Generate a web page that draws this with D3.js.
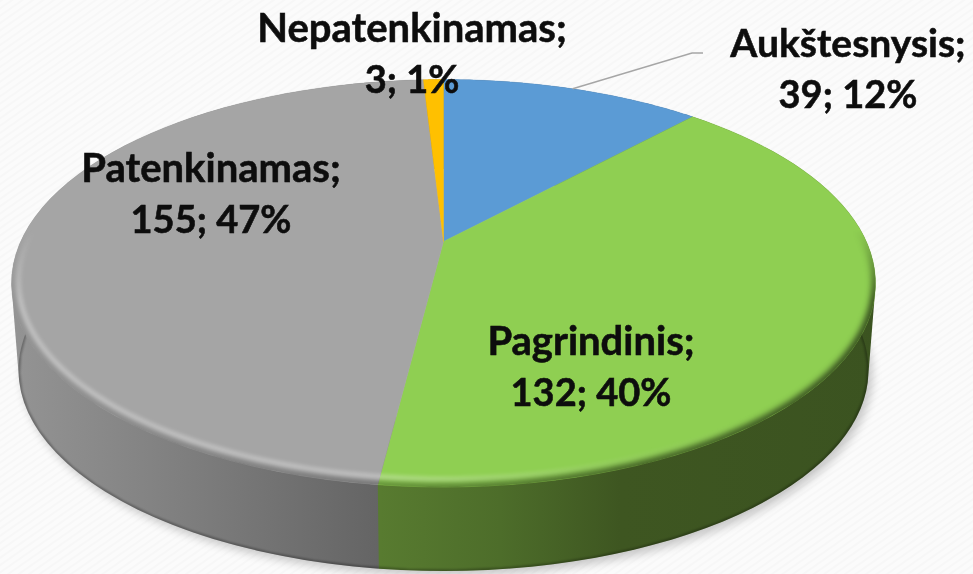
<!DOCTYPE html>
<html><head><meta charset="utf-8">
<script src="https://cdn.jsdelivr.net/npm/d3@7"></script>
<style>html,body{margin:0;padding:0;background:#fbfbfb;overflow:hidden}</style>
</head><body><div id="c"></div>
<script>
const categories = ["Aukštesnysis", "Pagrindinis", "Patenkinamas", "Nepatenkinamas"];
const values = [39, 132, 155, 3];
const percents = [12, 40, 47, 1];

const topColors = ["#5b9bd5", "#8fcf52", "#a5a5a5", "#ffc000"];
const labelAnchors = { "Aukštesnysis":[848,57], "Pagrindinis":[591,355], "Patenkinamas":[211,182], "Nepatenkinamas":[412,42] };

const W = 973, H = 574;
const svg = d3.select("#c").append("svg").attr("width", W).attr("height", H).style("display","block");
const defs = svg.append("defs");

const pat = defs.append("pattern").attr("id","tex").attr("width",6).attr("height",6)
  .attr("patternUnits","userSpaceOnUse").attr("patternTransform","rotate(-35)");
pat.append("rect").attr("width",6).attr("height",6).attr("fill","#fbfbfb");
pat.append("rect").attr("width",6).attr("height",2).attr("fill","#f7f7f7");
svg.append("rect").attr("width",W).attr("height",H).attr("fill","url(#tex)");

// Perspective projection of a disc: keeps the ellipse outline, moves the hub up
function disc(cx, top, bottom, rx, k) {
  const r = (1+k)/(1-k);
  const A = (bottom + r*top)/(1+r);
  const b = (bottom - A)*(1-k);
  const a = rx*Math.sqrt(1-k*k);
  const p = (u,v)=>{ const d = 1-k*v; return [cx + a*u/d, A + b*v/d]; };
  return { hub:[cx,A], at:t=>p(Math.sin(t), -Math.cos(t)) };
}
const K = 0.205;
const topDisc = disc(443.5, 79.5, 487, 432, K);
const botDisc = disc(443.5, 169, 571, 425, K);

const pieGen = d3.pie().sort(null).value(d=>d).startAngle(0).endAngle(2*Math.PI);
const arcs = pieGen(values);
const line = d3.line();
const samples = (a,b)=>d3.range(0,61).map(i=>a+(b-a)*i/60);
const full = d3.range(0,241).map(i=>i/240*2*Math.PI);

const blur = (id,s)=>defs.append("filter").attr("id",id).attr("x","-10%").attr("y","-10%").attr("width","120%").attr("height","120%")
  .append("feGaussianBlur").attr("stdDeviation",s);
blur("b3",3); blur("b2",2); blur("b1",1.2); blur("b6",5);
defs.append("filter").attr("id","soft").append("feGaussianBlur").attr("stdDeviation",.35);

function grad(id, stops){
  const g = defs.append("linearGradient").attr("id",id).attr("gradientUnits","userSpaceOnUse")
    .attr("x1",0).attr("x2",W).attr("y1",0).attr("y2",0);
  stops.forEach(s=>g.append("stop").attr("offset",s[0]/W).attr("stop-color",s[1]));
}
grad("side0",[[0,"#44607a"],[W,"#2c4a66"]]);
grad("side1",[[380,"#587b30"],[500,"#4d6d2a"],[620,"#3e5621"],[973,"#3a5220"]]);
grad("side2",[[10,"#949494"],[150,"#838383"],[300,"#6f6f6f"],[381,"#646464"]]);
grad("side3",[[0,"#a07a00"],[W,"#a07a00"]]);

// soft shadow beneath the disc
svg.append("path").attr("d",line(full.map(botDisc.at))+"Z")
  .attr("transform","translate(4,5)").attr("fill","#000").attr("opacity",.2).attr("filter","url(#b6)");

// side walls: hull of the upper and lower arc of each slice, largest index first
const walls = svg.append("g");
arcs.map((d,i)=>[d,i]).reverse().forEach(([d,i])=>{
  const ts = samples(d.startAngle,d.endAngle);
  const hull = d3.polygonHull(ts.map(topDisc.at).concat(ts.map(botDisc.at)));
  walls.append("path").attr("d",line(hull)+"Z").attr("fill",`url(#side${i})`);
});
// darker lower edge of the wall
const lowerEdge = samples(arcs[1].startAngle, arcs[2].endAngle).map(botDisc.at);
defs.append("clipPath").attr("id","wallClip").append("path").attr("d",line(full.map(botDisc.at))+"Z");
svg.append("g").attr("clip-path","url(#wallClip)").append("path")
  .attr("d",line(lowerEdge)).attr("fill","none").attr("stroke","#000")
  .attr("stroke-width",3).attr("opacity",.3).attr("filter","url(#b1)");

// top faces
const tops = svg.append("g");
arcs.forEach((d,i)=>{
  const pts = [topDisc.hub].concat(samples(d.startAngle,d.endAngle).map(topDisc.at));
  tops.append("path").attr("d",line(pts)+"Z").attr("fill",topColors[i])
    .attr("stroke",topColors[i]).attr("stroke-width",.4);
});

// bevel along the front rim
const rimPath = line(full.map(topDisc.at))+"Z";
const inset = disc(443.5, 84, 479, 425, K);
const insetPath = line(full.map(inset.at))+"Z";
const vg = (id,col,stops)=>{
  const g = defs.append("linearGradient").attr("id",id).attr("gradientUnits","userSpaceOnUse")
    .attr("x1",0).attr("x2",W).attr("y1",0).attr("y2",0);
  stops.forEach(s=>g.append("stop").attr("offset",s[0]/W).attr("stop-color",col).attr("stop-opacity",s[1]));
};
vg("hi","#fff",[[0,.4],[380,.4],[600,.1],[760,0],[973,0]]);
vg("lo","#000",[[0,.12],[380,.35],[620,.6],[973,.75]]);
const mask = defs.append("mask").attr("id","front").attr("maskUnits","userSpaceOnUse")
  .attr("x",0).attr("y",0).attr("width",W).attr("height",H);
const mg = defs.append("linearGradient").attr("id","frontG").attr("gradientUnits","userSpaceOnUse")
  .attr("x1",0).attr("x2",0).attr("y1",230).attr("y2",300);
mg.append("stop").attr("offset",0).attr("stop-color","#000");
mg.append("stop").attr("offset",1).attr("stop-color","#fff");
mask.append("rect").attr("width",W).attr("height",H).attr("fill","url(#frontG)");

defs.append("clipPath").attr("id","topClip").append("path").attr("d",rimPath);
const bevel = svg.append("g").attr("clip-path","url(#topClip)").append("g").attr("mask","url(#front)");
bevel.append("path").attr("d",rimPath).attr("fill","none").attr("stroke","url(#lo)")
  .attr("stroke-width",7).attr("filter","url(#b3)");
bevel.append("path").attr("d",insetPath).attr("fill","none").attr("stroke","url(#hi)")
  .attr("stroke-width",4).attr("filter","url(#b2)");

// leader line of the first label
const leaderAnchor = topDisc.at((arcs[0].startAngle+arcs[0].endAngle)/2);
svg.append("polyline").attr("points",[leaderAnchor,[692,53],[703,53]].map(p=>p.join(",")).join(" "))
  .attr("fill","none").attr("stroke","#a6a6a6").attr("stroke-width",1.5);

// labels
const lab = svg.append("g").attr("font-family","Lato, 'Open Sans', sans-serif").attr("font-weight",700)
  .attr("fill","#0a0a0a").attr("stroke","#0a0a0a").attr("stroke-width",.5)
  .attr("text-anchor","middle").attr("filter","url(#soft)");
categories.forEach((c,i)=>{
  const [lx,ly] = labelAnchors[c];
  lab.append("text").attr("x",lx).attr("y",ly).attr("font-size",i===0?39:40).text(c+";");
  lab.append("text").attr("x",lx).attr("y",ly+51).attr("font-size",38).text(values[i]+"; "+percents[i]+"%");
});
</script></body></html>
